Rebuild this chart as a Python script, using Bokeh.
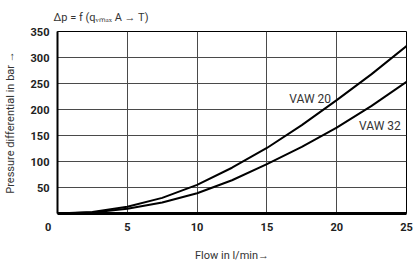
from bokeh.plotting import figure
from bokeh.models import ColumnDataSource, FixedTicker, Range1d
from bokeh.embed import file_html
from bokeh.resources import INLINE

# Data
flow = [0, 2.5, 5, 7.5, 10, 12.5, 15, 17.5, 20, 22.5, 25]
vaw20 = [0, 3, 13, 30, 55, 88, 126, 170, 218, 268, 322]
vaw32 = [0, 2, 9, 21, 39, 64, 95, 128, 165, 207, 253]
x_ticks = [0, 5, 10, 15, 20, 25]
y_ticks = [50, 100, 150, 200, 250, 300, 350]
series_labels = ["VAW 20", "VAW 32"]
label_x = [18.1, 23.1]
label_y = [220, 168]
title_text = "\u0394p = f (q\u1d65\u2098\u2090\u2093 A \u2192 T)"

FONT = "Roboto"
INK = "#222222"

p = figure(width=413, height=264, output_backend="svg", toolbar_location=None,
           x_range=Range1d(0, 25), y_range=Range1d(0, 350),
           min_border_left=57, min_border_right=7, min_border_top=5, min_border_bottom=49)
p.background_fill_color = "white"
p.border_fill_color = "white"
p.outline_line_color = "black"
p.outline_line_width = 1

p.title.text = title_text
p.title.text_font = FONT
p.title.text_font_style = "normal"
p.title.text_font_size = "11px"
p.title.text_color = "#333333"
p.title.align = "left"
p.title.offset = -4
p.title.standoff = 16

# grid
p.xgrid.ticker = FixedTicker(ticks=x_ticks[1:])
p.ygrid.ticker = FixedTicker(ticks=y_ticks)
for g in (p.xgrid, p.ygrid):
    g.grid_line_color = "#4a4a4a"
    g.grid_line_width = 1
    g.grid_line_alpha = 1

# axes
p.xaxis.ticker = FixedTicker(ticks=x_ticks)
p.yaxis.ticker = FixedTicker(ticks=y_ticks)
# origin "0" sits left of the corner: pad it with figure spaces
p.xaxis.major_label_overrides = {0: "0" + "\u2007" * 3}
for ax in (p.xaxis, p.yaxis):
    ax.major_tick_out = 0
    ax.major_tick_in = 0
    ax.minor_tick_out = 0
    ax.minor_tick_in = 0
    ax.axis_line_color = "black"
    ax.major_label_text_font = FONT
    ax.major_label_text_font_style = "bold"
    ax.major_label_text_font_size = "11px"
    ax.major_label_text_color = INK
    ax.axis_label_text_font = FONT
    ax.axis_label_text_font_style = "normal"
    ax.axis_label_text_font_size = "11px"
    ax.axis_label_text_color = "#333333"
p.xaxis.axis_line_width = 3
p.yaxis.axis_line_width = 2
p.xaxis.major_label_standoff = 7
p.yaxis.major_label_standoff = 8
p.xaxis.axis_label = "Flow in l/min\u2192"
p.yaxis.axis_label = "Pressure differential in bar \u2192"
p.xaxis.axis_label_standoff = 12
p.yaxis.axis_label_standoff = 11

src = ColumnDataSource(dict(x=flow, a=vaw20, b=vaw32))
p.line("x", "a", source=src, line_color="black", line_width=2)
p.line("x", "b", source=src, line_color="black", line_width=2)

lsrc = ColumnDataSource(dict(x=label_x, y=label_y, t=series_labels))
p.text("x", "y", text="t", source=lsrc, text_align="center", text_baseline="middle",
       text_font_size="12px", text_color="#333333", text_font={"value": FONT})

open("out.html", "w").write(file_html(p, INLINE))
